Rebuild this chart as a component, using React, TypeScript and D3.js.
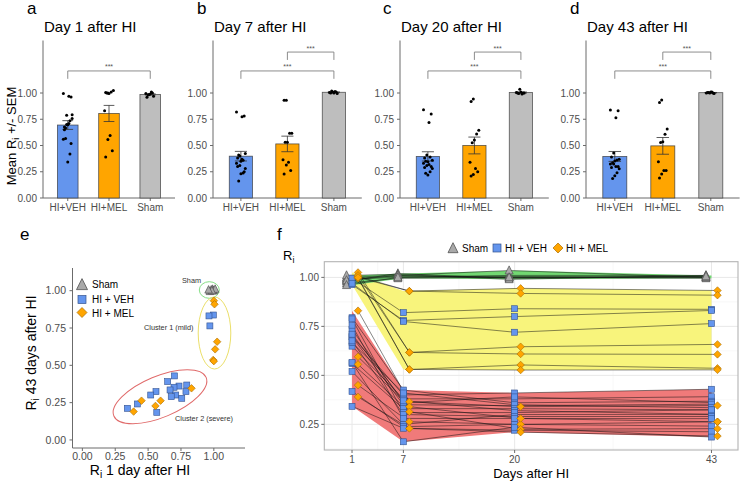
import React from "react";
import * as d3 from "d3";

const FONT = "'Liberation Sans', Arial, Helvetica, sans-serif";

// ---------- data ----------
const days = [1, 7, 20, 43];
const groupNames = ["HI+VEH", "HI+MEL", "Sham"];
const barTicks = [0, 0.25, 0.5, 0.75, 1.0];
const scatterTicks = [0, 0.25, 0.5, 0.75, 1.0];
const fTicksY = [0.25, 0.5, 0.75, 1.0];

// HI + VEH animals (Ri at day 1, 7, 20, 43)
const vehD1 = [0.996, 0.963, 0.97, 0.70, 0.649, 0.794, 0.735, 0.697, 0.667, 0.56, 0.52, 0.71, 0.788, 0.676, 0.756, 0.418, 0.342, 0.566];
const vehD7 = [0.82, 0.78, 0.775, 0.40, 0.38, 0.425, 0.36, 0.35, 0.41, 0.33, 0.25, 0.37, 0.31, 0.30, 0.28, 0.238, 0.23, 0.161];
const vehD20 = [0.84, 0.80, 0.72, 0.41, 0.38, 0.36, 0.39, 0.345, 0.35, 0.33, 0.30, 0.32, 0.31, 0.29, 0.28, 0.25, 0.22, 0.235];
const vehD43 = [0.837, 0.831, 0.764, 0.429, 0.391, 0.368, 0.361, 0.353, 0.335, 0.324, 0.301, 0.301, 0.324, 0.29, 0.279, 0.241, 0.212, 0.185];
const vehCluster = [1, 1, 1, 2, 2, 2, 2, 2, 2, 2, 2, 2, 2, 2, 2, 2, 2, 2];

// HI + MEL animals
const melD1 = [1.0, 1.005, 1.025, 1.01, 0.995, 1.0, 0.83, 0.45, 0.595, 0.556, 0.39];
const melD7 = [0.93, 0.93, 0.617, 0.617, 0.53, 0.53, 0.365, 0.263, 0.34, 0.314, 0.229];
const melD20 = [0.944, 0.918, 0.646, 0.609, 0.553, 0.527, 0.34, 0.25, 0.28, 0.225, 0.21];
const melD43 = [0.933, 0.909, 0.658, 0.607, 0.536, 0.528, 0.346, 0.263, 0.263, 0.228, 0.19];
const melCluster = [1, 1, 1, 1, 1, 1, 2, 2, 2, 2, 2];

// Sham animals
const shamD1 = [1.0, 0.99, 0.98, 0.995, 0.97, 1.01, 0.985, 0.96];
const shamD7 = [1.01, 1.0, 1.02, 1.005, 0.995, 1.015, 1.01, 1.0];
const shamD20 = [1.0, 1.01, 0.995, 1.005, 1.0, 0.99, 1.035, 1.0];
const shamD43 = [1.0, 1.01, 1.005, 1.0, 0.995, 1.01, 1.0, 1.005];

const panelTitles = ["Day 1 after HI", "Day 7 after HI", "Day 20 after HI", "Day 43 after HI"];
const panelLetters = ["a", "b", "c", "d"];
const sigPairs = [
  [[0, 2]],
  [[1, 2], [0, 2]],
  [[1, 2], [0, 2]],
  [[1, 2], [0, 2]],
];
const sigLabel = "***";

const vehByDay = [vehD1, vehD7, vehD20, vehD43];
const melByDay = [melD1, melD7, melD20, melD43];
const shamByDay = [shamD1, shamD7, shamD20, shamD43];

// ---------- styles ----------
const COL = {
  veh: "#6495ed",
  vehStroke: "#34538f",
  mel: "#ffa500",
  melStroke: "#a96d00",
  sham: "#bebebe",
  shamPt: "#a9a9a9",
  shamStroke: "#505050",
  axis: "#6b6b6b",
  tick: "#4d4d4d",
};

const barLayout = [
  { x0: 43, step: 41.25, letterX: 27, titleX: 44 },
  { x0: 213, step: 46.5, letterX: 197, titleX: 214 },
  { x0: 400, step: 46.5, letterX: 383, titleX: 401 },
  { x0: 586, step: 48, letterX: 570, titleX: 587 },
];

const fmt = d3.format(".2f");
const sem = (a: number[]) => (d3.deviation(a) as number) / Math.sqrt(a.length);
const jit = (i: number) => (((i * 7) % 9) - 4) * 1.1;

function tri(cx: number, cy: number, s: number) {
  return `M${cx},${cy - s * 0.58}L${cx + s / 2},${cy + s * 0.42}L${cx - s / 2},${cy + s * 0.42}Z`;
}
function dia(cx: number, cy: number, s: number) {
  return `M${cx},${cy - s / 2}L${cx + s / 2},${cy}L${cx},${cy + s / 2}L${cx - s / 2},${cy}Z`;
}

function BarPanel({ idx }: { idx: number }) {
  const L = barLayout[idx];
  const x = d3
    .scalePoint<string>()
    .domain(groupNames)
    .range([L.x0, L.x0 + 3.2 * L.step])
    .padding(0.6);
  const y = d3.scaleLinear().domain([0, 1.5]).range([198, 40.5]);
  const data = [vehByDay[idx], melByDay[idx], shamByDay[idx]];
  const fills = [COL.veh, COL.mel, COL.sham];
  const bw = L.step * 0.5;
  const cw = L.step * 0.26;
  return (
    <g>
      <text x={L.letterX} y={14} fontSize={17} fontFamily={FONT}>{panelLetters[idx]}</text>
      <text x={L.titleX} y={32} fontSize={15} fontFamily={FONT}>{panelTitles[idx]}</text>
      <line x1={L.x0} x2={L.x0} y1={y(1.5)} y2={y(0)} stroke={COL.axis} strokeWidth={1} />
      <line x1={L.x0} x2={L.x0 + 3.2 * L.step} y1={y(0)} y2={y(0)} stroke={COL.axis} strokeWidth={1} />
      {barTicks.map((t) => (
        <g key={t}>
          <line x1={L.x0 - 3} x2={L.x0} y1={y(t)} y2={y(t)} stroke={COL.axis} />
          <text x={L.x0 - 6} y={y(t)} dy="0.35em" textAnchor="end" fontSize={10} fill={COL.tick} fontFamily={FONT}>
            {fmt(t)}
          </text>
        </g>
      ))}
      {groupNames.map((g, gi) => {
        const cx = x(g) as number;
        const vals = data[gi];
        const m = d3.mean(vals) as number;
        const s = sem(vals);
        return (
          <g key={g}>
            <line x1={cx} x2={cx} y1={y(0)} y2={y(0) + 3} stroke={COL.axis} />
            <text x={cx} y={211} textAnchor="middle" fontSize={10} fill={COL.tick} fontFamily={FONT}>{g}</text>
            <rect x={cx - bw / 2} y={y(m)} width={bw} height={y(0) - y(m)} fill={fills[gi]} stroke="#333" strokeOpacity={0.8} strokeWidth={0.8} />
            <line x1={cx} x2={cx} y1={y(m - s)} y2={y(m + s)} stroke="#333" strokeWidth={0.8} />
            <line x1={cx - cw / 2} x2={cx + cw / 2} y1={y(m + s)} y2={y(m + s)} stroke="#333" strokeWidth={0.8} />
            <line x1={cx - cw / 2} x2={cx + cw / 2} y1={y(m - s)} y2={y(m - s)} stroke="#333" strokeWidth={0.8} />
            {vals.map((v, i) => (
              <circle key={i} cx={cx + jit(i + gi * 3)} cy={y(v)} r={1.5} fill="#000" />
            ))}
          </g>
        );
      })}
      {sigPairs[idx].map((p, k) => {
        const lvl = sigPairs[idx].length === 2 && k === 0 ? 1.39 : 1.21;
        const xa = x(groupNames[p[0]]) as number;
        const xb = x(groupNames[p[1]]) as number;
        return (
          <g key={k}>
            <path
              d={`M${xa},${y(lvl - 0.075)}V${y(lvl)}H${xb}V${y(lvl - 0.075)}`}
              fill="none"
              stroke="#808080"
              strokeWidth={0.9}
            />
            <text x={(xa + xb) / 2} y={y(lvl) - 1.5} textAnchor="middle" fontSize={7} fill="#555" fontFamily={FONT}>
              {sigLabel}
            </text>
          </g>
        );
      })}
    </g>
  );
}

function ScatterPanel() {
  const xE = d3.scaleLinear().domain([-0.075, 1.237]).range([72.5, 245]);
  const yE = d3.scaleLinear().domain([-0.054, 1.152]).range([448, 268]);
  return (
    <g fontFamily={FONT}>
      <text x={20} y={240} fontSize={17}>e</text>
      <line x1={72.5} x2={72.5} y1={268} y2={448} stroke={COL.axis} />
      <line x1={72.5} x2={245} y1={448} y2={448} stroke={COL.axis} />
      {scatterTicks.map((t) => (
        <g key={t}>
          <line x1={69.5} x2={72.5} y1={yE(t)} y2={yE(t)} stroke={COL.axis} />
          <text x={66} y={yE(t)} dy="0.35em" textAnchor="end" fontSize={10.5} fill={COL.tick}>{fmt(t)}</text>
          <line x1={xE(t)} x2={xE(t)} y1={448} y2={451} stroke={COL.axis} />
          <text x={xE(t)} y={459.5} textAnchor="middle" fontSize={10.5} fill={COL.tick}>{fmt(t)}</text>
        </g>
      ))}
      <text transform={`translate(36,353) rotate(-90)`} textAnchor="middle" fontSize={14}>
        R<tspan fontSize={10} dy={3}>i</tspan>
        <tspan dy={-3}> 43 days after HI</tspan>
      </text>
      <text x={140} y={475} textAnchor="middle" fontSize={14}>
        R<tspan fontSize={10} dy={3}>i</tspan>
        <tspan dy={-3}> 1 day after HI</tspan>
      </text>
      <ellipse cx={209.3} cy={290} rx={10} ry={8.3} fill="none" stroke="#86df86" strokeWidth={1} />
      <ellipse cx={214.5} cy={333} rx={16.3} ry={36} fill="none" stroke="#ebdf6a" strokeWidth={1} />
      <ellipse cx={160} cy={396.7} rx={50} ry={20.5} transform="rotate(-22.7 160 396.7)" fill="none" stroke="#e06a6a" strokeWidth={1} />
      <text x={182} y={283} fontSize={7.3} fill="#333">Sham</text>
      <text x={144} y={330} fontSize={7.3} fill="#333">Cluster 1 (mild)</text>
      <text x={175} y={421} fontSize={7.3} fill="#333">Cluster 2 (severe)</text>
      {shamD1.map((v, i) => (
        <path key={"s" + i} d={tri(xE(v), yE(shamD43[i]), 7.5)} fill={COL.shamPt} stroke={COL.shamStroke} strokeWidth={0.7} />
      ))}
      {vehD1.map((v, i) => (
        <rect key={"v" + i} x={xE(v) - 3} y={yE(vehD43[i]) - 3} width={6} height={6} fill={COL.veh} stroke={COL.vehStroke} strokeWidth={0.6} />
      ))}
      {melD1.map((v, i) => (
        <path key={"m" + i} d={dia(xE(v), yE(melD43[i]), 7.5)} fill={COL.mel} stroke={COL.melStroke} strokeWidth={0.6} />
      ))}
      <path d={tri(82, 285, 11)} fill={COL.shamPt} stroke={COL.shamStroke} strokeWidth={0.8} />
      <text x={92} y={288} fontSize={10}>Sham</text>
      <rect x={78} y={295.5} width={8} height={8} fill={COL.veh} stroke={COL.vehStroke} strokeWidth={0.7} />
      <text x={92} y={303} fontSize={10}>HI + VEH</text>
      <path d={dia(82, 312.5, 10)} fill={COL.mel} stroke={COL.melStroke} strokeWidth={0.7} />
      <text x={92} y={317} fontSize={10}>HI + MEL</text>
    </g>
  );
}

function LinePanel() {
  const fL = 324.3, fR = 738, fT = 261.7, fB = 450;
  const xF = d3.scaleLinear().domain([-2.24, 46.1]).range([fL, fR]);
  const yF = d3.scaleLinear().domain([0.119, 1.08]).range([fB, fT]);
  const dodge = { sham: -5.5, veh: 0, mel: 6 };

  const clusterVals = (c: number) =>
    days.map((_, d) => [
      ...vehByDay[d].filter((_, i) => vehCluster[i] === c),
      ...melByDay[d].filter((_, i) => melCluster[i] === c),
    ]);
  const ribbon = (sets: number[][]) =>
    d3
      .area<number[]>()
      .x((_, i) => xF(days[i]))
      .y0((s) => yF(d3.min(s) as number))
      .y1((s) => yF(d3.max(s) as number))(sets) as string;

  const shamSets = days.map((_, d) => shamByDay[d]);
  const line = d3.line<[number, number]>();
  const animalPath = (byDay: number[][], i: number, off: number) =>
    line(days.map((dd, d) => [xF(dd) + off, yF(byDay[d][i])])) as string;

  const minorY = [0.125, 0.375, 0.625, 0.875];
  const minorX = [4, 13.5, 31.5];

  return (
    <g fontFamily={FONT}>
      <text x={277} y={240} fontSize={17}>f</text>
      <rect x={fL} y={fT} width={fR - fL} height={fB - fT} fill="#fff" />
      {minorY.map((t) => (
        <line key={"my" + t} x1={fL} x2={fR} y1={yF(t)} y2={yF(t)} stroke="#f3f3f3" strokeWidth={0.6} />
      ))}
      {minorX.map((t) => (
        <line key={"mx" + t} x1={xF(t)} x2={xF(t)} y1={fT} y2={fB} stroke="#f3f3f3" strokeWidth={0.6} />
      ))}
      {fTicksY.map((t) => (
        <line key={"gy" + t} x1={fL} x2={fR} y1={yF(t)} y2={yF(t)} stroke="#e8e8e8" strokeWidth={1} />
      ))}
      {days.map((t) => (
        <line key={"gx" + t} x1={xF(t)} x2={xF(t)} y1={fT} y2={fB} stroke="#e8e8e8" strokeWidth={1} />
      ))}
      <path d={ribbon(clusterVals(2))} fill="#f07a7a" />
      <path d={ribbon(clusterVals(1))} fill="#f8f47c" />
      <path d={ribbon(shamSets)} fill="#72d872" />
      {shamD1.map((_, i) => (
        <path key={"ls" + i} d={animalPath(shamByDay, i, dodge.sham)} fill="none" stroke="#111" strokeWidth={0.6} strokeOpacity={0.85} />
      ))}
      {vehD1.map((_, i) => (
        <path key={"lv" + i} d={animalPath(vehByDay, i, dodge.veh)} fill="none" stroke="#111" strokeWidth={0.6} strokeOpacity={0.85} />
      ))}
      {melD1.map((_, i) => (
        <path key={"lm" + i} d={animalPath(melByDay, i, dodge.mel)} fill="none" stroke="#111" strokeWidth={0.6} strokeOpacity={0.85} />
      ))}
      {days.map((dd, d) =>
        shamByDay[d].map((v, i) => (
          <path key={`ps${d}-${i}`} d={tri(xF(dd) + dodge.sham, yF(v), 8)} fill={COL.shamPt} stroke={COL.shamStroke} strokeWidth={0.7} />
        ))
      )}
      {days.map((dd, d) =>
        vehByDay[d].map((v, i) => (
          <rect key={`pv${d}-${i}`} x={xF(dd) + dodge.veh - 3} y={yF(v) - 3} width={6} height={6} fill={COL.veh} stroke={COL.vehStroke} strokeWidth={0.6} />
        ))
      )}
      {days.map((dd, d) =>
        melByDay[d].map((v, i) => (
          <path key={`pm${d}-${i}`} d={dia(xF(dd) + dodge.mel, yF(v), 7.5)} fill={COL.mel} stroke={COL.melStroke} strokeWidth={0.6} />
        ))
      )}
      <rect x={fL} y={fT} width={fR - fL} height={fB - fT} fill="none" stroke="#b3b3b3" strokeWidth={1.1} />
      {fTicksY.map((t) => (
        <g key={"ty" + t}>
          <line x1={fL - 3} x2={fL} y1={yF(t)} y2={yF(t)} stroke={COL.axis} />
          <text x={319} y={yF(t)} dy="0.35em" textAnchor="end" fontSize={10} fill={COL.tick}>{fmt(t)}</text>
        </g>
      ))}
      {days.map((t) => (
        <g key={"tx" + t}>
          <line x1={xF(t)} x2={xF(t)} y1={fB} y2={fB + 3} stroke={COL.axis} />
          <text x={xF(t)} y={463} textAnchor="middle" fontSize={10} fill={COL.tick}>{t}</text>
        </g>
      ))}
      <text x={(fL + fR) / 2} y={478} textAnchor="middle" fontSize={13}>Days after HI</text>
      <text x={283} y={260} fontSize={13}>
        R<tspan fontSize={9} dy={3}>i</tspan>
      </text>
      <path d={tri(453, 248.5, 10)} fill={COL.shamPt} stroke={COL.shamStroke} strokeWidth={0.8} />
      <text x={462} y={252} fontSize={10}>Sham</text>
      <rect x={493} y={244} width={8} height={8} fill={COL.veh} stroke={COL.vehStroke} strokeWidth={0.7} />
      <text x={505} y={252} fontSize={10}>HI + VEH</text>
      <path d={dia(558, 248, 10)} fill={COL.mel} stroke={COL.melStroke} strokeWidth={0.7} />
      <text x={566} y={252} fontSize={10}>HI + MEL</text>
    </g>
  );
}

export default function App() {
  return (
    <div style={{ position: "absolute", left: 0, top: 0 }}>
      <svg width={740} height={483} style={{ display: "block", background: "#fff" }} fontFamily={FONT}>
        <rect width={740} height={483} fill="#fff" />
        {[0, 1, 2, 3].map((i) => (
          <BarPanel key={i} idx={i} />
        ))}
        <text transform="translate(16,136) rotate(-90)" textAnchor="middle" fontSize={13} fontFamily={FONT}>
          Mean R<tspan fontSize={9} dy={3}>i</tspan>
          <tspan dy={-3}> +/- SEM</tspan>
        </text>
        <ScatterPanel />
        <LinePanel />
      </svg>
    </div>
  );
}
